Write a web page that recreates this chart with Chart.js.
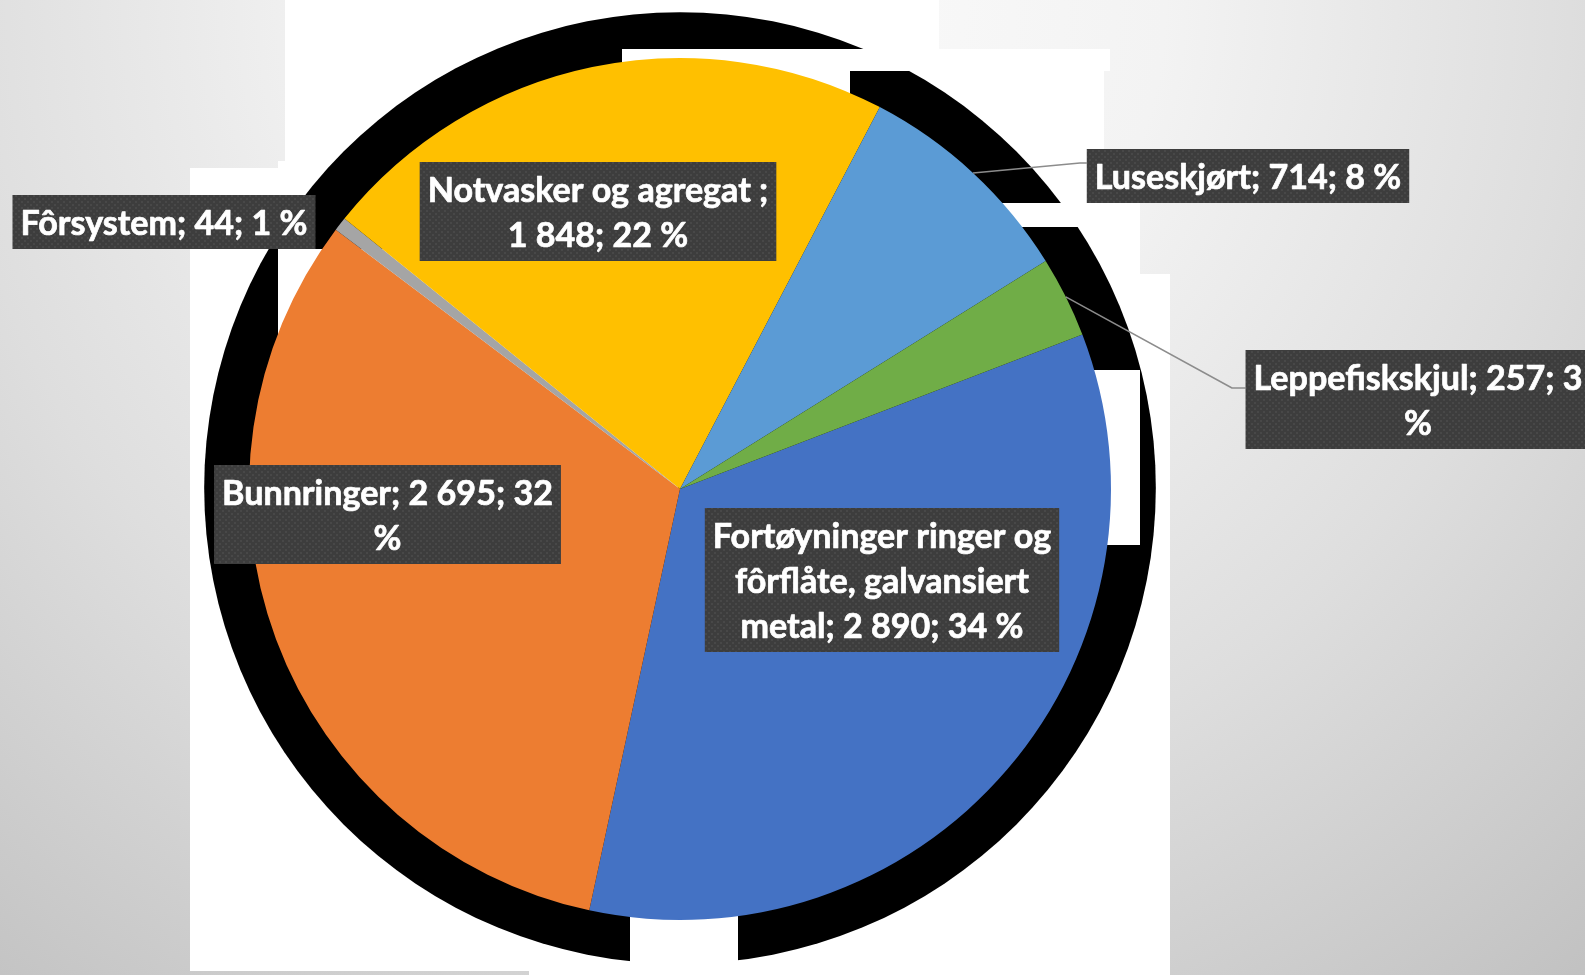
<!DOCTYPE html>
<html>
<head>
<meta charset="utf-8">
<script src="https://cdn.jsdelivr.net/npm/chart.js@4.4.1/dist/chart.umd.min.js"></script>
<style>
html,body{margin:0;padding:0;overflow:hidden;background:#d8d8d8}
canvas{display:block}
</style>
</head>
<body>
<canvas id="c" width="1585" height="975"></canvas>
<script>
// ---- data ----
const categories = [
  "Fortøyninger ringer og fôrflåte, galvansiert metal",
  "Bunnringer",
  "Fôrsystem",
  "Notvasker og agregat ",
  "Luseskjørt",
  "Leppefiskskjul"
];
const values = [2890, 2695, 44, 1848, 714, 257];
const colors = ["#4472C4", "#ED7D31", "#A5A5A5", "#FFC000", "#5B9BD5", "#70AD47"];

// ---- layout (decoration / label placement, not data) ----
const labelLayout = [
  {cx: 882,   cy: 580,   wrap: 360},
  {cx: 387.5, cy: 514.5, wrap: 340},
  {cx: 164,   cy: 222,   wrap: 400},
  {cx: 598,   cy: 211.5, wrap: 360},
  {cx: 1248,  cy: 176,   wrap: 400, elbow: [1080, 163]},
  {cx: 1418,  cy: 399.5, wrap: 340, elbow: [1232, 388]}
];
const whitePanel = [
  [285, 0, 654, 49],
  [285, 49, 819, 112],
  [278, 161, 826, 7],
  [190, 168, 914, 35],
  [190, 203, 950, 71],
  [190, 274, 980, 697],
  [529, 971, 641, 4]
];
const shadowCovers = [
  [278, 249, 400, 240],
  [622, 49, 228, 55],
  [850, 49, 260, 22],
  [900, 203, 240, 24],
  [1000, 370, 140, 175],
  [630, 915, 108, 60]
];
const shadowScale = 1.104;

const total = values.reduce((a, b) => a + b, 0);
const fmtNum = v => String(v).replace(/\B(?=(\d{3})+(?!\d))/g, "\u00a0");
const labelTexts = values.map((v, i) =>
  categories[i] + "; " + fmtNum(v) + "; " + Math.round(v / total * 100) + " %");

function makePattern(ctx) {
  const p = document.createElement("canvas");
  p.width = 6; p.height = 6;
  const pc = p.getContext("2d");
  pc.fillStyle = "#3d3d3d"; pc.fillRect(0, 0, 6, 6);
  pc.fillStyle = "#484848";
  pc.fillRect(0, 0, 2, 2);
  pc.fillRect(3, 3, 2, 2);
  return ctx.createPattern(p, "repeat");
}

const bgPlugin = {
  id: "bgDecor",
  beforeDraw(chart) {
    const c = chart.ctx, W = chart.width, H = chart.height;
    c.save();
    const g = c.createRadialGradient(760, 0, 0, 760, 0, 1350);
    g.addColorStop(0, "#fbfbfb");
    g.addColorStop(0.3, "#f3f3f3");
    g.addColorStop(0.6, "#dedede");
    g.addColorStop(1, "#bdbdbd");
    c.fillStyle = g;
    c.fillRect(0, 0, W, H);
    c.fillStyle = "#ffffff";
    whitePanel.forEach(r => c.fillRect(r[0], r[1], r[2], r[3]));
    const a = chart.getDatasetMeta(0).data[0];
    c.fillStyle = "#000000";
    c.beginPath();
    c.arc(a.x, a.y - 1, a.outerRadius * shadowScale, 0, Math.PI * 2);
    c.fill();
    c.fillStyle = "#ffffff";
    shadowCovers.forEach(r => c.fillRect(r[0], r[1], r[2], r[3]));
    c.restore();
  }
};

let FONT_SIZE = 32;
const LINE_H = 45;
const PAD_X = 8;

function wrapText(c, text, maxW) {
  const words = text.split(" ");
  const lines = [];
  let cur = "";
  words.forEach(w => {
    const test = cur ? cur + " " + w : w;
    if (cur && c.measureText(test).width > maxW) {
      lines.push(cur);
      cur = w;
    } else {
      cur = test;
    }
  });
  if (cur) lines.push(cur);
  return lines;
}

const labelPlugin = {
  id: "dataLabels",
  afterDatasetsDraw(chart) {
    const c = chart.ctx;
    const meta = chart.getDatasetMeta(0);
    const pattern = makePattern(c);
    c.save();
    c.font = "bold " + FONT_SIZE + "px Lato";
    labelTexts.forEach((txt, i) => {
      const L = labelLayout[i];
      const lines = wrapText(c, txt, L.wrap);
      const w = Math.max(...lines.map(l => c.measureText(l).width)) + PAD_X * 2;
      const h = lines.length * LINE_H + 9;
      const left = L.cx - w / 2, top = L.cy - h / 2;
      if (L.elbow) {
        const arc = meta.data[i];
        const mid = (arc.startAngle + arc.endAngle) / 2;
        const sx = arc.x + Math.cos(mid) * arc.outerRadius;
        const sy = arc.y + Math.sin(mid) * arc.outerRadius;
        c.strokeStyle = "#8c8c8c";
        c.lineWidth = 1.5;
        c.beginPath();
        c.moveTo(sx, sy);
        c.lineTo(L.elbow[0], L.elbow[1]);
        c.lineTo(left, L.elbow[1]);
        c.stroke();
      }
      c.fillStyle = pattern;
      c.fillRect(left, top, w, h);
      c.fillStyle = "#ffffff";
      c.strokeStyle = "#ffffff";
      c.lineWidth = 0.7;
      c.lineJoin = "round";
      c.textAlign = "center";
      c.textBaseline = "alphabetic";
      lines.forEach((ln, k) => {
        const y = top + 40 + k * LINE_H;
        c.fillText(ln, L.cx, y);
        c.strokeText(ln, L.cx, y);
      });
    });
    c.restore();
  }
};

function build() {
  // fit font so label widths resemble the original typeface
  const m = document.createElement("canvas").getContext("2d");
  m.font = "bold 32px Lato";
  const wRef = m.measureText("Notvasker og agregat ;").width;
  if (wRef > 0) FONT_SIZE = Math.round(32 * 341 / wRef * 10) / 10;

  new Chart(document.getElementById("c"), {
    type: "pie",
    data: {
      labels: categories,
      datasets: [{
        data: values,
        backgroundColor: colors,
        borderWidth: 0,
        hoverOffset: 0,
        offset: 0
      }]
    },
    options: {
      responsive: false,
      animation: false,
      events: [],
      rotation: 69,
      layout: {padding: {left: 249, right: 474, top: 58, bottom: 55}},
      plugins: {legend: {display: false}, tooltip: {enabled: false}}
    },
    plugins: [bgPlugin, labelPlugin]
  });
}

if (document.fonts && document.fonts.load) {
  document.fonts.load("bold 32px Lato").then(build, build);
} else {
  build();
}
</script>
</body>
</html>
